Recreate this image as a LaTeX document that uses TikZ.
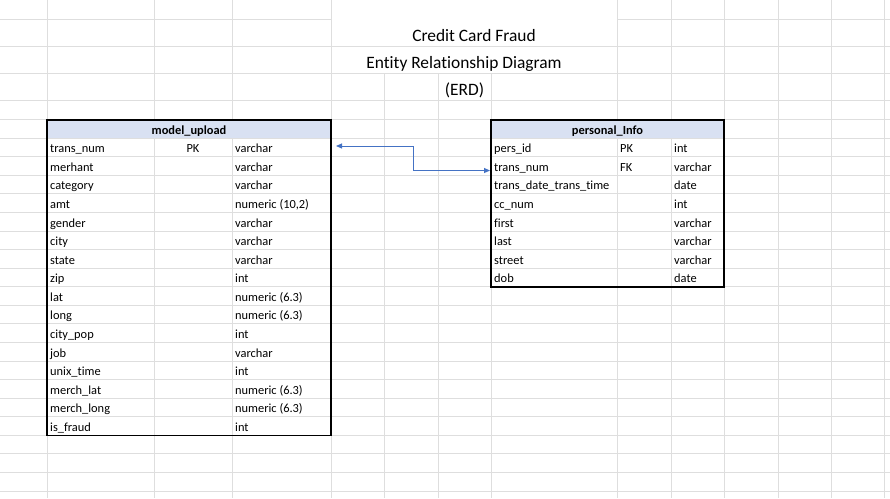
\documentclass[tikz,border=0pt]{standalone}
\usepackage{fontspec}
\setmainfont{Carlito}[Ligatures=NoCommon]
\usetikzlibrary{arrows.meta}
\definecolor{gridc}{RGB}{222,222,222}
\definecolor{hdr}{RGB}{217,225,242}
\definecolor{fkc}{RGB}{68,114,196}
\begin{document}
\begin{tikzpicture}[x=1pt,y=-1pt,
 grid/.style={draw=gridc,line width=1pt},
 cell/.style={inner sep=0pt,font=\fontsize{12.4}{14}\selectfont},
 head/.style={inner sep=0pt,font=\fontsize{12.4}{14}\selectfont\bfseries},
 ttl/.style={inner sep=0pt,font=\fontsize{17.4}{20}\selectfont},
 tblborder/.style={draw=black,line width=1.8pt},
 fk/.style={draw=fkc,line width=0.9pt,{Triangle[length=6pt,width=5pt]}-{Triangle[length=6pt,width=5pt]}}]
\useasboundingbox (0,0) rectangle (890,498);
\fill[white] (0,0) rectangle (890,498);
% spreadsheet gridlines
\draw[grid] (0,19)--(331,19) (617,19)--(890,19);
\foreach \y in {46,73,100.3} \draw[grid] (0,\y)--(890,\y);
\foreach \k in {0,...,20} \draw[grid] (0,{119.7+18.57*\k})--(890,{119.7+18.57*\k});
\foreach \x in {47,154,232,331,617,671,724,778,831,884} \draw[grid] (\x,0)--(\x,498);
\foreach \x in {384,438,491} \draw[grid] (\x,73)--(\x,498);
% titles
\node[ttl,anchor=base] (t1) at (474,41) {Credit Card Fraud};
\node[ttl,anchor=base] (t2) at (464,68) {Entity Relationship Diagram};
\node[ttl,anchor=base] (t3) at (464.5,95) {(ERD)};
% left table
\fill[hdr] (47,119.7) rectangle (331,138.3);
\node[head,anchor=base] (Lh) at (189,134.2) {model\_upload};
\foreach \n/\k/\t [count=\i] in {trans\_num/PK/varchar, merhant//varchar, category//varchar, amt//{numeric (10,2)}, gender//varchar, city//varchar, state//varchar, zip//int, lat//{numeric (6.3)}, long//{numeric (6.3)}, city\_pop//int, job//varchar, unix\_time//int, merch\_lat//{numeric (6.3)}, merch\_long//{numeric (6.3)}, is\_fraud//int}{
  \pgfmathsetmacro\yb{119.7+18.57*\i+14.5}
  \node[cell,anchor=base west] (Ln\i) at (50,\yb) {\n};
  \node[cell,anchor=base] (Lk\i) at (193,\yb) {\k};
  \node[cell,anchor=base west] (Lt\i) at (235,\yb) {\t};
}
\draw[tblborder] (47,119.7) rectangle (331,435.4);
% right table
\fill[hdr] (491,119.7) rectangle (724,138.3);
\node[head,anchor=base] (Rh) at (607.5,134.2) {personal\_Info};
\foreach \n/\k/\t [count=\i] in {pers\_id/PK/int, trans\_num/FK/varchar, trans\_date\_trans\_time//date, cc\_num//int, first//varchar, last//varchar, street//varchar, dob//date}{
  \pgfmathsetmacro\yb{119.7+18.57*\i+14.5}
  \node[cell,anchor=base west] (Rn\i) at (494,\yb) {\n};
  \node[cell,anchor=base west] (Rk\i) at (620,\yb) {\k};
  \node[cell,anchor=base west] (Rt\i) at (674,\yb) {\t};
}
\draw[tblborder] (491,119.7) rectangle (724,286.8);
% relationship connector
\coordinate (fkL) at (336,146);
\coordinate (fkR) at (490,170.5);
\draw[fk] (fkL) -- ++(77,0) |- (fkR);
\end{tikzpicture}
\end{document}
